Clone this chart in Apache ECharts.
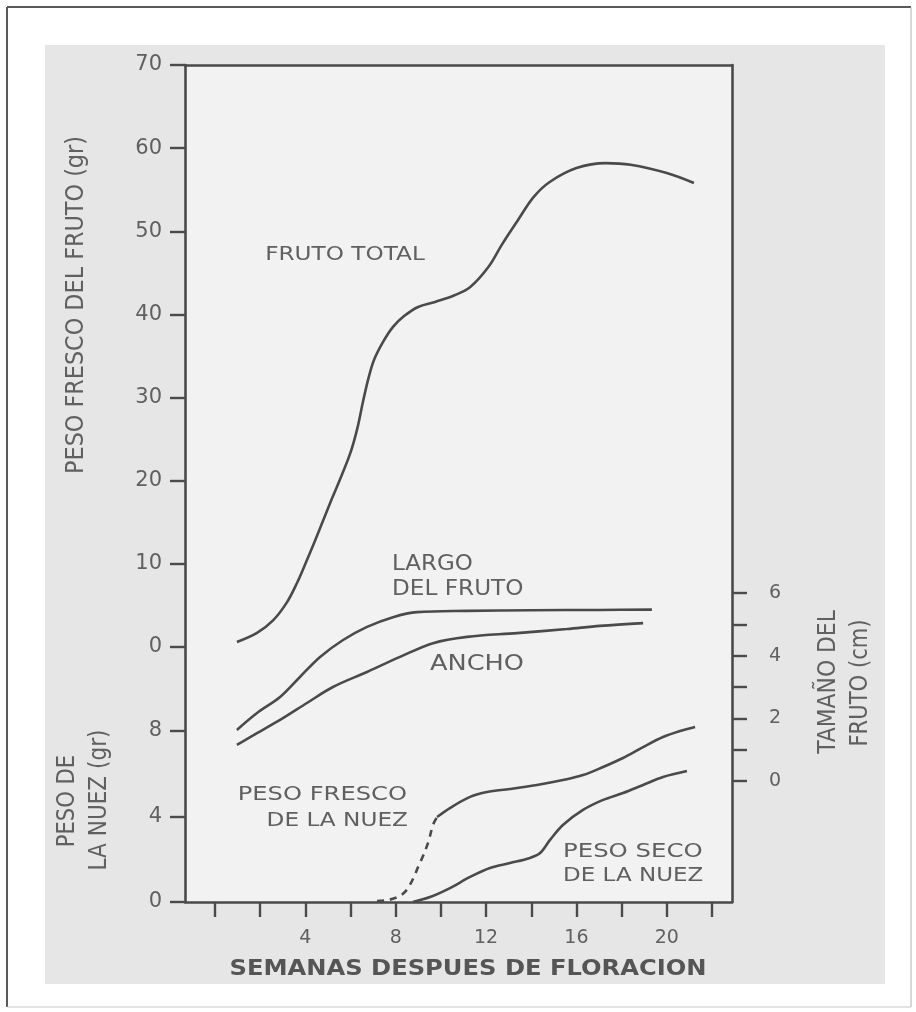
<!DOCTYPE html>
<html>
<head>
<meta charset="utf-8">
<style>
  html, body { margin: 0; padding: 0; background: #ffffff; }
  #chart { width: 916px; height: 1012px; }
</style>
<script src="https://cdn.jsdelivr.net/npm/echarts@6/dist/echarts.min.js"></script>
</head>
<body>
<div id="chart"></div>
<script>
// ---- data ----
const weekTicks = [0, 2, 4, 6, 8, 10, 12, 14, 16, 18, 20, 22];
const weekLabels = [4, 8, 12, 16, 20];
const frutoTicks = [0, 10, 20, 30, 40, 50, 60, 70];
const nuezTicks = [0, 4, 8];
const tamanoTicks = [0, 1, 2, 3, 4, 5, 6];
const tamanoLabels = [0, 2, 4, 6];

// [semana, peso fresco del fruto (gr)]
const frutoTotal = [[0.97,0.6],[1.86,1.7],[2.57,3.2],[3.19,5.4],[3.63,7.7],[4.0,10.0],[4.4,12.6],[4.8,15.3],[5.2,18.0],[5.6,20.6],[6.0,23.4],[6.3,26.3],[6.55,29.5],[6.8,32.4],[7.05,34.6],[7.44,36.7],[7.88,38.5],[8.37,39.8],[8.99,40.9],[9.74,41.5],[10.6,42.3],[11.3,43.3],[12.1,45.7],[12.7,48.4],[13.4,51.3],[14.1,54.1],[14.8,55.9],[16.0,57.6],[17.3,58.2],[18.4,58.0],[20.0,57.0],[21.2,55.8]];
// [semana, tamaño del fruto (cm)]
const largo = [[0.97,1.63],[1.86,2.17],[2.88,2.68],[3.76,3.32],[4.65,3.96],[5.67,4.50],[6.73,4.92],[7.88,5.23],[8.94,5.39],[11.16,5.43],[14.0,5.45],[17.04,5.46],[19.34,5.47]];
const ancho = [[0.97,1.15],[1.86,1.53],[2.88,1.95],[4.07,2.49],[5.22,3.0],[6.73,3.48],[8.19,3.96],[9.65,4.40],[11.16,4.60],[13.37,4.72],[15.58,4.85],[17.04,4.95],[18.95,5.04]];
// [semana, peso de la nuez (gr)]
const nuezFrescoInicio = [[7.17,0.05],[7.66,0.09],[8.41,0.47],[9.07,1.82],[9.43,2.76],[9.65,3.6],[9.83,3.97]];
const nuezFresco = [[9.83,3.97],[10.40,4.39],[11.29,4.91],[12.04,5.14],[13.06,5.28],[14.25,5.47],[15.40,5.70],[16.29,5.93],[17.18,6.31],[18.06,6.73],[18.95,7.24],[19.83,7.71],[20.58,7.99],[21.25,8.18]];
const nuezSeco = [[8.76,0],[9.52,0.23],[10.40,0.65],[11.29,1.17],[12.17,1.59],[13.06,1.82],[13.94,2.06],[14.39,2.29],[14.83,2.90],[15.40,3.60],[16.29,4.30],[17.18,4.77],[18.06,5.09],[18.95,5.47],[19.83,5.84],[20.89,6.12]];

// ---- styling ----
const INK = '#4a4a4a';
const TXT = '#606060';
const FONT = 'DejaVu Sans';

function lineSeries(name, data, yIdx, dashed) {
  return {
    name: name, type: 'line', xAxisIndex: 0, yAxisIndex: yIdx,
    data: data, smooth: 0.35, showSymbol: false, symbol: 'none',
    lineStyle: { color: INK, width: 2.6, type: dashed ? [7, 6] : 'solid' },
    silent: true, animation: false
  };
}

function txt(text, x, y, opt) {
  opt = opt || {};
  return {
    type: 'text', x: x, y: y,
    rotation: opt.rot || 0,
    scaleX: opt.sx || 1, scaleY: opt.sy || 1,
    z: 50,
    style: {
      text: text,
      font: (opt.weight || 'normal') + ' ' + (opt.size || 20) + 'px "' + FONT + '"',
      fill: opt.color || TXT,
      textAlign: opt.align || 'center',
      textVerticalAlign: 'middle'
    }
  };
}

const axisCommon = {
  splitLine: { show: false },
  axisLine: { show: true, onZero: false, lineStyle: { color: INK, width: 2.6 } },
  axisTick: { show: true, inside: false, length: 15, lineStyle: { color: INK, width: 2.4 } }
};

const chart = echarts.init(document.getElementById('chart'), null, { renderer: 'canvas' });

const option = {
  backgroundColor: '#ffffff',
  animation: false,
  grid: {
    left: 185, right: 184, top: 65, bottom: 110,
    show: true, backgroundColor: '#f2f2f2', borderWidth: 0
  },
  xAxis: [
    {
      type: 'value', min: -1.328, max: 22.885, position: 'bottom',
      splitLine: { show: false },
      axisLine: axisCommon.axisLine,
      axisTick: Object.assign({}, axisCommon.axisTick, { customValues: weekTicks }),
      axisLabel: { customValues: weekLabels, margin: 27, color: TXT, fontFamily: FONT, fontSize: 19 }
    },
    {
      type: 'value', min: -1.328, max: 22.885, position: 'top',
      splitLine: { show: false },
      axisLine: axisCommon.axisLine,
      axisTick: { show: false }, axisLabel: { show: false }
    }
  ],
  yAxis: [
    {
      type: 'value', min: -30.67, max: 70, position: 'left',
      splitLine: { show: false },
      axisLine: axisCommon.axisLine,
      axisTick: Object.assign({}, axisCommon.axisTick, { customValues: frutoTicks }),
      axisLabel: { customValues: frutoTicks, margin: 23, color: TXT, fontFamily: FONT, fontSize: 21 }
    },
    {
      type: 'value', min: 0, max: 39.11, position: 'left',
      splitLine: { show: false },
      axisLine: { show: false, onZero: false },
      axisTick: Object.assign({}, axisCommon.axisTick, { customValues: nuezTicks }),
      axisLabel: { customValues: nuezTicks, margin: 23, color: TXT, fontFamily: FONT, fontSize: 21 }
    },
    {
      type: 'value', min: -3.862, max: 22.853, position: 'right',
      splitLine: { show: false },
      axisLine: axisCommon.axisLine,
      axisTick: Object.assign({}, axisCommon.axisTick, { customValues: tamanoTicks }),
      axisLabel: { customValues: tamanoLabels, margin: 37, color: TXT, fontFamily: FONT, fontSize: 19 }
    }
  ],
  series: [
    lineSeries('Fruto total', frutoTotal, 0, false),
    lineSeries('Largo del fruto', largo, 2, false),
    lineSeries('Ancho', ancho, 2, false),
    lineSeries('Peso fresco de la nuez (inicio)', nuezFrescoInicio, 1, true),
    lineSeries('Peso fresco de la nuez', nuezFresco, 1, false),
    lineSeries('Peso seco de la nuez', nuezSeco, 1, false)
  ],
  graphic: [
    // paper / scan background
    { type: 'rect', z: -100, shape: { x: 45, y: 45, width: 840, height: 939 }, style: { fill: '#e6e6e6' } },
    // outer frame
    { type: 'line', z: -90, shape: { x1: 7, y1: 7, x2: 7, y2: 1007 }, style: { stroke: '#5a5a5a', lineWidth: 2 } },
    { type: 'line', z: -90, shape: { x1: 7, y1: 7, x2: 911, y2: 7 }, style: { stroke: '#5a5a5a', lineWidth: 2 } },
    { type: 'line', z: -90, shape: { x1: 911, y1: 7, x2: 911, y2: 1007 }, style: { stroke: '#b0b0b0', lineWidth: 1 } },
    { type: 'line', z: -90, shape: { x1: 7, y1: 1007, x2: 911, y2: 1007 }, style: { stroke: '#c8c8c8', lineWidth: 1 } },

    // axis titles
    txt('PESO FRESCO DEL FRUTO (gr)', 77, 305, { rot: Math.PI / 2, size: 24, sx: 0.93 }),
    txt('PESO DE', 68, 801, { rot: Math.PI / 2, size: 24, sx: 0.88 }),
    txt('LA NUEZ (gr)', 100, 800, { rot: Math.PI / 2, size: 24, sx: 0.9 }),
    txt('TAMAÑO DEL', 829, 682, { rot: Math.PI / 2, size: 24, sx: 0.91 }),
    txt('FRUTO (cm)', 861, 683, { rot: Math.PI / 2, size: 24, sx: 0.88 }),
    txt('SEMANAS DESPUES DE FLORACION', 468, 970, { size: 20.6, weight: 'bold', sx: 1.175, color: '#555555' }),

    // curve labels
    txt('FRUTO TOTAL', 345, 255, { size: 19, sx: 1.22 }),
    txt('LARGO', 392, 565, { size: 20.5, sx: 1.12, align: 'left' }),
    txt('DEL FRUTO', 392, 590, { size: 20.5, sx: 1.13, align: 'left' }),
    txt('ANCHO', 477, 665, { size: 20.5, sx: 1.25 }),
    txt('PESO FRESCO', 407, 795, { size: 20, sx: 1.21, align: 'right' }),
    txt('DE LA NUEZ', 408, 821, { size: 20, sx: 1.16, align: 'right' }),
    txt('PESO SECO', 563, 852, { size: 20, sx: 1.22, align: 'left' }),
    txt('DE LA NUEZ', 563, 876, { size: 20, sx: 1.15, align: 'left' })
  ]
};

chart.setOption(option);
</script>
</body>
</html>
